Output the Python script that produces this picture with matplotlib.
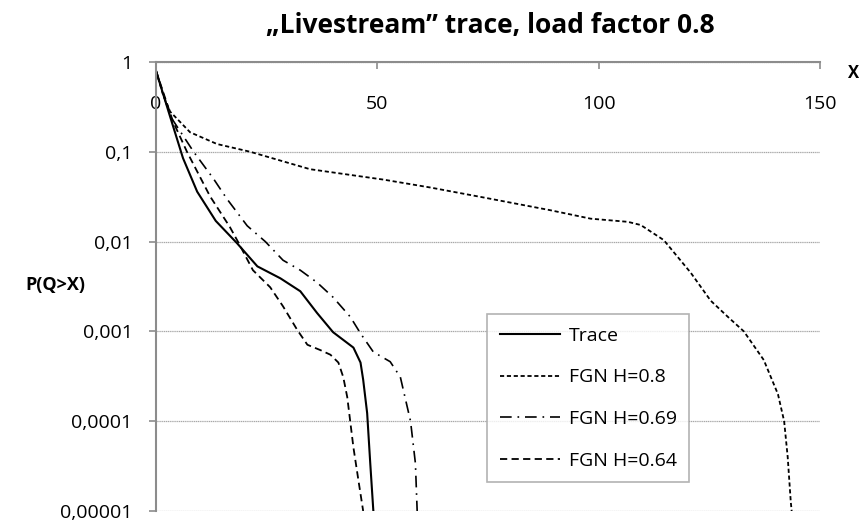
"""
Livestream trace, load factor 0.8 — queue tail probability P(Q>X) on a log axis.
"""
import matplotlib
matplotlib.use("Agg")
import matplotlib.pyplot as plt  # noqa: E402
from matplotlib.lines import Line2D  # noqa: E402

plt.rcParams["font.family"] = ["Open Sans", "DejaVu Sans"]

# ---------------------------------------------------------------------------
# Data
# ---------------------------------------------------------------------------
trace_x = [0, 3.2, 6.1, 9.3, 13.5, 18.3, 22.9, 28.1, 32.6, 36.4, 40.0, 44.6,
           46.2, 46.8, 47.7, 48.4, 49.1]
trace_y = [0.8, 0.245, 0.085, 0.036, 0.017, 0.0096, 0.0053, 0.0039, 0.0028,
           0.0016, 0.00098, 0.00066, 0.00045, 0.00029, 0.000123, 0.000034, 0.00001]

h80_x = [0, 1.6, 3.2, 7.7, 13.8, 21.3, 34.8, 51.4, 62, 74, 89, 98.2, 106.6,
         109.5, 114.7, 120.8, 125.3, 129.2, 132.8, 137.3, 140.5, 141.9, 142.7,
         143.4, 143.6]
h80_y = [0.8, 0.43, 0.28, 0.165, 0.122, 0.1, 0.064, 0.049, 0.040, 0.031, 0.0224,
         0.018, 0.0166, 0.0153, 0.0104, 0.0045, 0.0022, 0.00145, 0.001, 0.00048,
         0.0002, 0.0001, 0.00004, 0.0000126, 0.00001]

h69_x = [0, 3.2, 8.5, 13.0, 16.0, 20.6, 24.7, 28.7, 32.6, 36.4, 40.0, 43.9,
         46.2, 49.1, 52.9, 55.2, 57.5, 58.6, 59.0]
h69_y = [0.8, 0.25, 0.1, 0.05, 0.03, 0.015, 0.01, 0.0062, 0.0048, 0.0035,
         0.0024, 0.00145, 0.00095, 0.00059, 0.00046, 0.00031, 0.0001, 0.000034,
         0.00001]

h64_x = [0, 3.8, 7.0, 12.2, 16.7, 18.5, 21.9, 25.8, 28.7, 31.9, 34.2, 37.1,
         39.4, 41.2, 42.3, 43.2, 44.6, 45.7, 46.8]
h64_y = [0.8, 0.22, 0.1, 0.032, 0.0145, 0.01, 0.0048, 0.0031, 0.0019, 0.00104,
         0.00071, 0.00062, 0.00055, 0.00045, 0.00031, 0.000186, 0.000051,
         0.0000224, 0.00001]

x_ticks = [0, 50, 100, 150]
y_ticks = [1, 0.1, 0.01, 0.001, 0.0001, 0.00001]
y_tick_labels = ["1", "0,1", "0,01", "0,001", "0,0001", "0,00001"]

labels = ["Trace", "FGN H=0.8", "FGN H=0.69", "FGN H=0.64"]

# ---------------------------------------------------------------------------
# Styles
# ---------------------------------------------------------------------------
AXIS_GREY = "#8c8c8c"
STYLES = [
    dict(color="black", lw=1.5, linestyle="-"),                      # Trace
    dict(color="black", lw=1.3, linestyle=(0, (2.3, 1.5))),          # H=0.8
    dict(color="black", lw=1.2, linestyle=(0, (7, 3.5, 1, 3.5))),    # H=0.69
    dict(color="black", lw=1.3, linestyle=(0, (4, 2.4))),            # H=0.64
]

fig = plt.figure(figsize=(8.66, 5.26), dpi=100)
ax = fig.add_axes([156 / 866, 1 - 511 / 526, (820 - 156) / 866, (511 - 62) / 526])

ax.plot(h80_x, h80_y, **STYLES[1])
ax.plot(h64_x, h64_y, **STYLES[3])
ax.plot(h69_x, h69_y, **STYLES[2])
ax.plot(trace_x, trace_y, **STYLES[0])

ax.set_yscale("log")
ax.set_xlim(0, 150)
ax.set_ylim(0.00001, 1)

# x axis drawn along the top, labels just below it inside the plot
ax.xaxis.tick_top()
ax.set_xticks(x_ticks)
ax.set_xticklabels([str(v) for v in x_ticks])
ax.tick_params(axis="x", direction="in", length=5, width=1.2, color=AXIS_GREY,
               pad=-37, labelsize=14, labeltop=True, labelbottom=False)

ax.set_yticks(y_ticks)
ax.set_yticklabels(y_tick_labels)
ax.yaxis.set_minor_locator(matplotlib.ticker.NullLocator())
ax.tick_params(axis="y", direction="out", length=5, width=1.2, color=AXIS_GREY,
               pad=12, labelsize=14)

for side in ("right", "bottom"):
    ax.spines[side].set_visible(False)
for side in ("top", "left"):
    ax.spines[side].set_color(AXIS_GREY)
    ax.spines[side].set_linewidth(1.5)

ax.grid(axis="y", color="#a8a8a8", linestyle=(0, (1, 0.5)), linewidth=0.9)
ax.set_axisbelow(True)

# Labels / title
fig.text(490 / 866, 1 - 33 / 526, "\u201eLivestream\u201d trace, load factor 0.8",
         ha="center", va="baseline", fontsize=19, fontweight="bold")
fig.text(55 / 866, 1 - 285 / 526, "P(Q>X)", ha="center", va="center",
         fontsize=13, fontweight="bold")
fig.text(854 / 866, 1 - 78 / 526, "X", ha="center", va="baseline",
         fontsize=12, fontweight="bold")

handles = [Line2D([], [], **s) for s in STYLES]
leg = ax.legend(handles, labels, loc="upper left",
                bbox_to_anchor=((487 - 156) / 664, 1 - (314 - 62) / 449),
                fontsize=14, frameon=True, fancybox=False, handlelength=3.1,
                handletextpad=0.45, labelspacing=1.22, borderpad=0.65,
                borderaxespad=0)
leg.get_frame().set_edgecolor("#a0a0a0")
leg.get_frame().set_linewidth(1.2)

fig.savefig("out.png", dpi=100)
